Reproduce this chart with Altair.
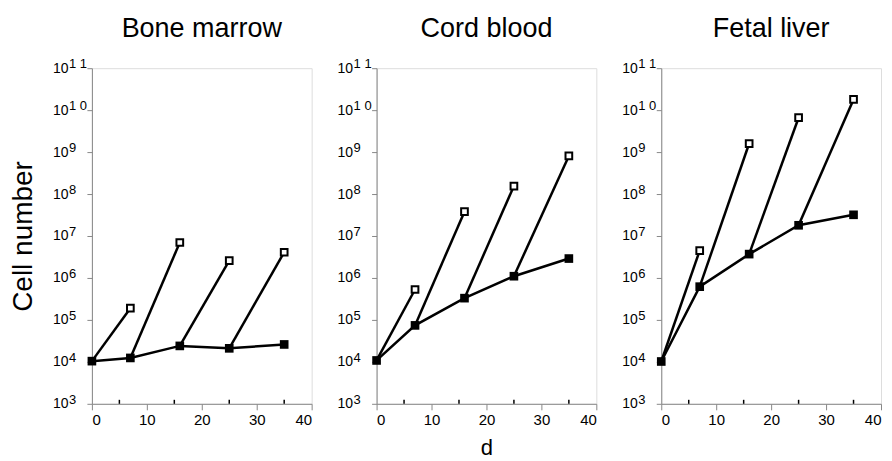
import altair as alt
import pandas as pd

days = [0, 7, 16, 25, 35]
panel_names = ["Bone marrow", "Cord blood", "Fetal liver"]

# filled squares: main culture line
bm_main = [1.04e4, 1.24e4, 2.4e4, 2.1e4, 2.6e4]
cb_main = [1.08e4, 7.4e4, 3.3e5, 1.1e6, 2.9e6]
fl_main = [1.02e4, 6.2e5, 3.7e6, 1.8e7, 3.2e7]

# open squares: branch values at days[1:]
bm_branch = [1.9e5, 7.0e6, 2.6e6, 4.1e6]
cb_branch = [5.3e5, 3.8e7, 1.55e8, 8.1e8]
fl_branch = [4.5e6, 1.6e9, 6.6e9, 1.8e10]

y_ticks = [1e3, 1e4, 1e5, 1e6, 1e7, 1e8, 1e9, 1e10, 1e11]
y_exponents = ["3", "4", "5", "6", "7", "8", "9", "1 0", "1 1"]
x_ticks = [0, 10, 20, 30, 40]
x_minor = [5, 15, 25, 35]

FONT = "Liberation Sans"
W, H = 220, 336


def panel(name, main, branch, y_title, x_title):
    line_rows = []
    pt_rows = []
    for d, v in zip(days, main):
        line_rows.append({"series": "main", "day": d, "cells": v})
        pt_rows.append({"kind": "filled", "day": d, "cells": v})
    for i, v in enumerate(branch):
        sid = f"b{i}"
        line_rows.append({"series": sid, "day": days[i], "cells": main[i]})
        line_rows.append({"series": sid, "day": days[i + 1], "cells": v})
        pt_rows.append({"kind": "open", "day": days[i + 1], "cells": v})
    ldf = pd.DataFrame(line_rows)
    pdf = pd.DataFrame(pt_rows)
    edf = pd.DataFrame({"cells": y_ticks, "exp": y_exponents})
    mdf = pd.DataFrame({"day": x_minor})

    x_axis = alt.Axis(
        values=x_ticks,
        tickSize=6,
        labelFontSize=15,
        labelPadding=3,
        grid=False,
        title=x_title,
        titleFontSize=22,
        titleFontWeight="normal",
        titlePadding=10,
    )
    y_axis = alt.Axis(
        values=y_ticks,
        labelExpr="'10'",
        tickSize=5,
        labelFontSize=14,
        labelPadding=19,
        grid=False,
        title=y_title,
        titleFontSize=28,
        titleFontWeight="normal",
        titlePadding=15,
    )
    xs = alt.Scale(domain=[0, 40], nice=False, zero=False)
    ys = alt.Scale(type="log", domain=[1e3, 1e11], nice=False)
    x = alt.X("day:Q", scale=xs, axis=x_axis)
    y = alt.Y("cells:Q", scale=ys, axis=y_axis)

    lines = alt.Chart(ldf).mark_line(color="black", strokeWidth=2.5).encode(
        x=x, y=y, detail="series:N", order="day:Q"
    )
    filled = alt.Chart(pdf).transform_filter("datum.kind == 'filled'").mark_square(
        filled=True, color="black", size=75, opacity=1
    ).encode(x=x, y=y)
    opened = alt.Chart(pdf).transform_filter("datum.kind == 'open'").mark_square(
        filled=True, fill="white", stroke="black", strokeWidth=2, size=45, opacity=1
    ).encode(x=x, y=y)
    exps = alt.Chart(edf).mark_text(
        align="left", baseline="alphabetic", fontSize=13, font=FONT, color="black"
    ).encode(x=alt.value(-23), y=alt.Y("cells:Q", scale=ys), text="exp:N")
    minor = alt.Chart(mdf).mark_rule(color="black", strokeWidth=1.5).encode(
        x=alt.X("day:Q", scale=xs), y=alt.value(H), y2=alt.value(H - 4)
    )
    return alt.layer(lines, filled, opened, exps, minor).properties(
        width=W,
        height=H,
        title=alt.TitleParams(
            name, fontSize=27, fontWeight="normal", font=FONT, frame="group",
            anchor="middle", offset=15, color="black",
        ),
    )


p1 = panel(panel_names[0], bm_main, bm_branch, "Cell number", None)
p2 = panel(panel_names[1], cb_main, cb_branch, None, "d")
p3 = panel(panel_names[2], fl_main, fl_branch, None, None)

chart = alt.hconcat(p1, p2, p3, spacing=65, bounds="flush").properties(
    padding={"left": 0, "top": 6, "right": 2, "bottom": 0}
).configure_view(
    stroke="black", strokeWidth=1.6
).configure_axis(
    grid=False,
    domainColor="black",
    domainWidth=1.6,
    tickColor="black",
    tickWidth=1.6,
    labelColor="black",
    titleColor="black",
    labelFont=FONT,
    titleFont=FONT,
).configure(background="white")

chart.save("out.html", embed_options={"renderer": "svg", "actions": False})
